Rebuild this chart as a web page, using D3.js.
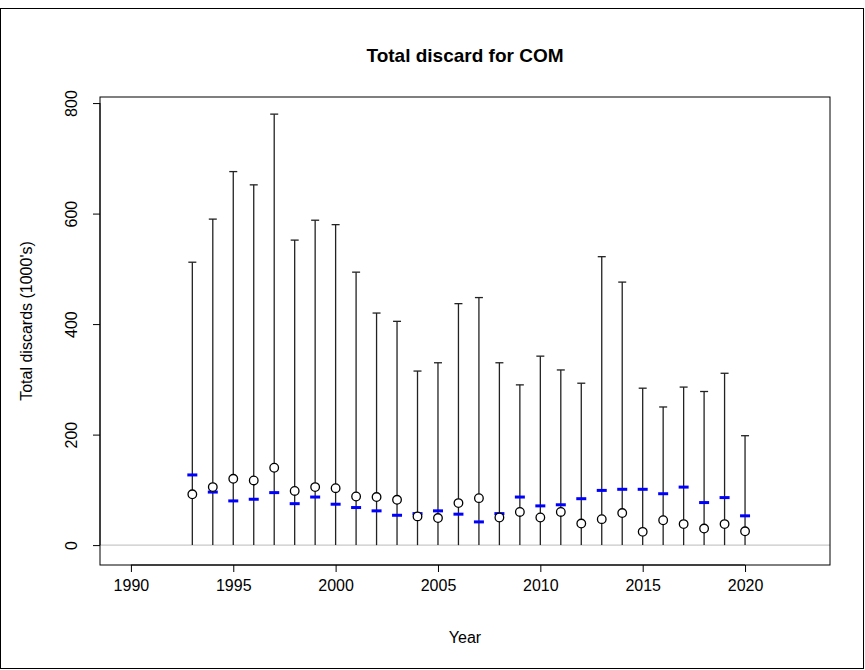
<!DOCTYPE html><html><head><script src="https://cdn.jsdelivr.net/npm/d3@7"></script>
<style>body{margin:0;background:#fff}text{font-family:Arial,"Liberation Sans",sans-serif}</style></head><body><svg id="c" width="865" height="670"></svg>
<script>
const years=d3.range(1993,2021);
const estimates=[92,105,120,117,140,98,105,103,88,87,82,52,49,76,85,50,60,50,60,39,47,58,24,45,38,30,38,25];
const reference=[127,96,80,83,95,75,87,74,68,62,54,57,62,56,42,57,87,71,73,84,99,101,101,93,105,77,86,53];
const upper=[512,590,676,652,780,552,588,580,494,420,405,315,330,437,448,330,290,342,317,293,522,476,284,250,286,278,311,198];
const lower=years.map(()=>0);
const xTicks=[1990,1995,2000,2005,2010,2015,2020];
const yTicks=[0,200,400,600,800];
const svg=d3.select("#c");
svg.append("rect").attr("x",0.5).attr("y",8.5).attr("width",863).attr("height",660).attr("fill","none").attr("stroke","#000");
const L=100,R=830,T=97,B=565;
const x=d3.scaleLinear().domain([1988.49,2024.15]).range([L,R]);
const y=d3.scaleLinear().domain([-36,811]).range([B,T]);
svg.append("line").attr("x1",L).attr("x2",R).attr("y1",y(0)).attr("y2",y(0)).attr("stroke","#bbb");
const g=svg.append("g");
years.forEach((yr,i)=>{
 g.append("line").attr("x1",x(yr)).attr("x2",x(yr)).attr("y1",y(lower[i])).attr("y2",y(upper[i])).attr("stroke","#222").attr("stroke-width",1.3);
 g.append("line").attr("x1",x(yr)-4).attr("x2",x(yr)+4).attr("y1",y(upper[i])).attr("y2",y(upper[i])).attr("stroke","#222").attr("stroke-width",1.3);
 g.append("line").attr("x1",x(yr)-5).attr("x2",x(yr)+5).attr("y1",y(reference[i])).attr("y2",y(reference[i])).attr("stroke","#0000ff").attr("stroke-width",3);
 g.append("circle").attr("cx",x(yr)).attr("cy",y(estimates[i])).attr("r",4.3).attr("fill","#fff").attr("stroke","#000").attr("stroke-width",1.3);
});
svg.append("rect").attr("x",L).attr("y",T).attr("width",R-L).attr("height",B-T).attr("fill","none").attr("stroke","#000");
const xa=svg.append("g").attr("transform",`translate(0,${B})`).call(d3.axisBottom(x).tickValues(xTicks).tickFormat(d3.format("d")).tickSize(7).tickPadding(8));
xa.select(".domain").attr("d",`M${x(1990)},0H${x(2020)}`);
const ya=svg.append("g").attr("transform",`translate(${L},0)`).call(d3.axisLeft(y).tickValues(yTicks).tickSize(7));
ya.select(".domain").attr("d",`M0,${y(0)}V${y(800)}`);
ya.selectAll(".tick text").attr("transform","rotate(-90)").attr("x",0).attr("dx",0).attr("y",-23).attr("text-anchor","middle").attr("dy","0");
svg.selectAll(".tick text").attr("font-size",16).attr("fill","#000");
svg.selectAll(".tick line,.domain").attr("stroke","#000");
svg.append("text").attr("x",465).attr("y",62).attr("text-anchor","middle").attr("font-size",19).attr("font-weight","bold").text("Total discard for COM");
svg.append("text").attr("x",465).attr("y",643).attr("text-anchor","middle").attr("font-size",16).text("Year");
svg.append("text").attr("transform",`translate(32,${(T+B)/2-10}) rotate(-90)`).attr("text-anchor","middle").attr("font-size",16).text("Total discards (1000's)");
</script></body></html>
